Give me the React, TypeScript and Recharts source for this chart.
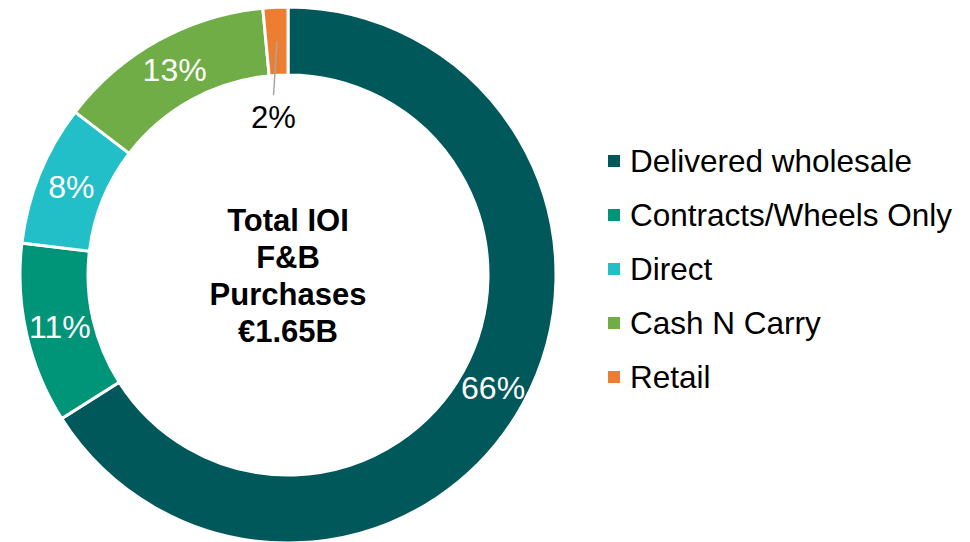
import { Cell, Legend, Pie, PieChart } from "recharts";

const categories = [
  "Delivered wholesale",
  "Contracts/Wheels Only",
  "Direct",
  "Cash N Carry",
  "Retail",
];
const shares = [66.0, 10.9, 8.5, 13.1, 1.5];
const shareLabels = ["66%", "11%", "8%", "13%", "2%"];
const colors = ["#00585A", "#009478", "#22BFC8", "#70AD47", "#ED7D31"];
const centerLines = ["Total IOI", "F&B", "Purchases", "€1.65B"];

const FONT = "'Liberation Sans', Arial, sans-serif";
const RAD = Math.PI / 180;

const data = categories.map((name, i) => ({ name, value: shares[i], label: shareLabels[i] }));

function SliceLabel(props: any) {
  const { cx, cy, midAngle, innerRadius, outerRadius, index } = props;
  const cos = Math.cos(-midAngle * RAD);
  const sin = Math.sin(-midAngle * RAD);
  if (index === data.length - 1) {
    // tiny slice: label sits inside the hole with a leader line
    const r0 = (innerRadius + outerRadius) / 2;
    const sx = cx + r0 * cos;
    const sy = cy + r0 * sin;
    const ex = cx + 180 * cos - 6;
    const ey = cy + 180 * sin;
    return (
      <g>
        <line x1={sx} y1={sy} x2={ex} y2={ey} stroke="#A6A6A6" strokeWidth={1.5} />
        <text
          x={ex}
          y={ey + 22}
          fill="#000"
          fontSize={31}
          fontFamily={FONT}
          textAnchor="middle"
          dominantBaseline="central"
        >
          {data[index].label}
        </text>
      </g>
    );
  }
  const r = (innerRadius + outerRadius) / 2;
  return (
    <text
      x={cx + r * cos}
      y={cy + r * sin}
      fill="#fff"
      fontSize={32}
      fontFamily={FONT}
      textAnchor="middle"
      dominantBaseline="central"
    >
      {data[index].label}
    </text>
  );
}

function LegendList() {
  return (
    <div style={{ fontFamily: FONT, fontSize: 31.5, color: "#000" }}>
      {data.map((d, i) => (
        <div key={d.name} style={{ display: "flex", alignItems: "center", height: 54 }}>
          <span
            style={{
              display: "inline-block",
              width: 12,
              height: 12,
              background: colors[i],
              marginRight: 10,
            }}
          />
          <span style={{ whiteSpace: "nowrap" }}>{d.name}</span>
        </div>
      ))}
    </div>
  );
}

export default function App() {
  return (
    <div style={{ position: "absolute", left: 0, top: 0, width: 970, height: 542, background: "#fff" }}>
      <PieChart width={970} height={542} margin={{ top: 0, right: 0, bottom: 0, left: 0 }}>
        <Pie
          data={data}
          dataKey="value"
          nameKey="name"
          cx={288}
          cy={275}
          innerRadius={200}
          outerRadius={268}
          startAngle={90}
          endAngle={-270}
          stroke="#fff"
          strokeWidth={3}
          label={SliceLabel}
          labelLine={false}
          isAnimationActive={false}
        >
          {data.map((d, i) => (
            <Cell key={d.name} fill={colors[i]} />
          ))}
        </Pie>
        <text
          x={288}
          y={220}
          textAnchor="middle"
          fontFamily={FONT}
          fontWeight="bold"
          fontSize={31}
          fill="#000"
        >
          {centerLines.map((line, i) => (
            <tspan key={line} x={288} y={231 + i * 37}>
              {line}
            </tspan>
          ))}
        </text>
        <Legend
          layout="vertical"
          align="right"
          verticalAlign="top"
          content={() => <LegendList />}
          wrapperStyle={{ left: 608, top: 134, width: 362 }}
        />
      </PieChart>
    </div>
  );
}
